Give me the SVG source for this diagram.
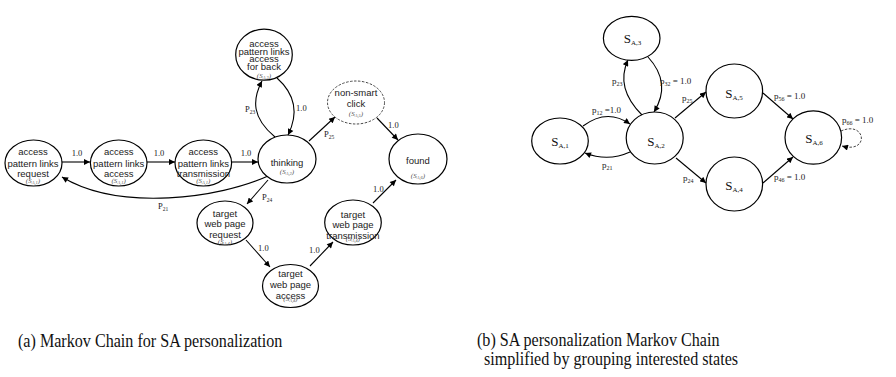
<svg xmlns="http://www.w3.org/2000/svg" width="896" height="377" viewBox="0 0 896 377">
  <style>
    .node { fill: #fff; stroke: #000; stroke-width: 1.2; }
    .dashed { stroke-dasharray: 2.5 1.5; stroke-width: 0.9; stroke: #333; }
    .edge { fill: none; stroke: #000; stroke-width: 1.1; marker-end: url(#arrow); }
    .loop { fill: none; stroke: #333; stroke-width: 0.9; stroke-dasharray: 2.5 1.5; marker-end: url(#arrow); }
    .nt { font-family: "Liberation Sans", Arial, sans-serif; font-size: 9.5px; fill: #222; text-anchor: middle; }
    .st { font-family: "Liberation Serif", "Times New Roman", serif; font-style: italic; font-size: 7px; fill: #555; text-anchor: middle; }
    .lbl { font-family: "Liberation Serif", "Times New Roman", serif; font-size: 8.5px; fill: #222; }
    .rl { font-family: "Liberation Serif", "Times New Roman", serif; font-size: 9px; fill: #222; }
    .big { font-family: "Liberation Serif", "Times New Roman", serif; font-size: 13px; fill: #111; text-anchor: middle; }
    .cap { font-family: "Liberation Serif", "Times New Roman", serif; font-size: 18px; fill: #111; }
  </style>
  <defs>
    <marker id="arrow" viewBox="0 0 10 10" refX="10" refY="5" markerWidth="7" markerHeight="6" markerUnits="userSpaceOnUse" orient="auto">
      <path d="M0,0 L10,5 L0,10 z" fill="#000"/>
    </marker>
  </defs>

  <!-- connectors -->
  <g id="connectors">
    <!-- (a) chain -->
    <line class="edge" x1="62" y1="162" x2="90" y2="162"/>
    <line class="edge" x1="147" y1="162" x2="175" y2="162"/>
    <line class="edge" x1="232" y1="162" x2="258" y2="162"/>
    <path class="edge" d="M268,176 C 220,198 120,212 62,177"/>
    <path class="edge" d="M275,137 C 252,118 252,100 262,81"/>
    <path class="edge" d="M277,78 C 296,95 298,115 288,135"/>
    <line class="edge" x1="309" y1="141" x2="335" y2="117"/>
    <line class="edge" x1="377" y1="118" x2="398" y2="140"/>
    <line class="edge" x1="268" y1="180" x2="247" y2="204"/>
    <line class="edge" x1="246" y1="240" x2="270" y2="267"/>
    <line class="edge" x1="310" y1="266" x2="333" y2="242"/>
    <line class="edge" x1="373" y1="203" x2="396" y2="180"/>

    <!-- (b) chain -->
    <path class="edge" d="M583,126 Q 607,108 630,124"/>
    <path class="edge" d="M630,152 Q 608,162 585,153"/>
    <path class="edge" d="M642,115 Q 615,88 628,60"/>
    <path class="edge" d="M648,57 Q 672,83 654,112"/>
    <line class="edge" x1="675" y1="118" x2="706" y2="92"/>
    <line class="edge" x1="676" y1="158" x2="706" y2="183"/>
    <line class="edge" x1="763" y1="93" x2="793" y2="119"/>
    <line class="edge" x1="763" y1="183" x2="793" y2="157"/>
    <path class="loop" d="M841,131 C 866,120 870,154 842,146"/>

    <!-- edge labels (a) -->
    <text class="lbl" x="77" y="156" text-anchor="middle">1.0</text>
    <text class="lbl" x="159" y="156" text-anchor="middle">1.0</text>
    <text class="lbl" x="246" y="156" text-anchor="middle">1.0</text>
    <text class="lbl" x="158" y="209">P<tspan font-size="5.5" dy="1.5">21</tspan></text>
    <text class="lbl" x="245" y="112">P<tspan font-size="5.5" dy="1.5">23</tspan></text>
    <text class="lbl" x="296" y="111">1.0</text>
    <text class="lbl" x="324" y="137">P<tspan font-size="5.5" dy="1.5">25</tspan></text>
    <text class="lbl" x="388" y="128">1.0</text>
    <text class="lbl" x="262" y="200">P<tspan font-size="5.5" dy="1.5">24</tspan></text>
    <text class="lbl" x="258" y="251">1.0</text>
    <text class="lbl" x="309" y="253">1.0</text>
    <text class="lbl" x="373" y="192">1.0</text>

    <!-- edge labels (b) -->
    <text class="rl" x="592" y="113">p<tspan font-size="6" dy="1.5">12</tspan><tspan dy="-1.5"> =1.0</tspan></text>
    <text class="rl" x="602" y="168">p<tspan font-size="6" dy="1.5">21</tspan></text>
    <text class="rl" x="612" y="84">p<tspan font-size="6" dy="1.5">23</tspan></text>
    <text class="rl" x="660" y="84">p<tspan font-size="6" dy="1.5">32</tspan><tspan dy="-1.5"> = 1.0</tspan></text>
    <text class="rl" x="682" y="101">p<tspan font-size="6" dy="1.5">25</tspan></text>
    <text class="rl" x="683" y="181">p<tspan font-size="6" dy="1.5">24</tspan></text>
    <text class="rl" x="774" y="99">p<tspan font-size="6" dy="1.5">56</tspan><tspan dy="-1.5"> = 1.0</tspan></text>
    <text class="rl" x="774" y="180">p<tspan font-size="6" dy="1.5">46</tspan><tspan dy="-1.5"> = 1.0</tspan></text>
    <text class="rl" x="842" y="123">p<tspan font-size="6" dy="1.5">66</tspan><tspan dy="-1.5"> = 1.0</tspan></text>
  </g>

  <!-- (a) Markov chain nodes -->
  <g id="a-request">
    <ellipse class="node" cx="33.5" cy="163" rx="28.5" ry="23"/>
    <text class="nt" x="33" y="155">access</text>
    <text class="nt" x="33" y="166.5">pattern links</text>
    <text class="nt" x="33" y="176.5">request</text>
    <text class="st" x="33" y="182.5">(S<tspan font-size="4.5" dy="1">A,1</tspan><tspan dy="-1">)</tspan></text>
  </g>
  <g id="a-access">
    <ellipse class="node" cx="118.7" cy="163" rx="28.3" ry="23"/>
    <text class="nt" x="118.7" y="155">access</text>
    <text class="nt" x="118.7" y="166.5">pattern links</text>
    <text class="nt" x="118.7" y="176.5">access</text>
    <text class="st" x="118.7" y="182.5">(S<tspan font-size="4.5" dy="1">A,1</tspan><tspan dy="-1">)</tspan></text>
  </g>
  <g id="a-transmission">
    <ellipse class="node" cx="203.3" cy="163" rx="28.3" ry="23"/>
    <text class="nt" x="203.3" y="155">access</text>
    <text class="nt" x="203.3" y="166.5">pattern links</text>
    <text class="nt" x="203.3" y="176.5">transmission</text>
    <text class="st" x="203.3" y="182.5">(S<tspan font-size="4.5" dy="1">A,1</tspan><tspan dy="-1">)</tspan></text>
  </g>
  <g id="a-thinking">
    <ellipse class="node" cx="287" cy="159" rx="29" ry="24"/>
    <text class="nt" x="287" y="165.5">thinking</text>
    <text class="st" x="287" y="173.5">(S<tspan font-size="4.5" dy="1">A,2</tspan><tspan dy="-1">)</tspan></text>
  </g>
  <g id="a-back">
    <ellipse class="node" cx="264" cy="54.7" rx="28.3" ry="25.5"/>
    <text class="nt" x="264" y="46.5">access</text>
    <text class="nt" x="264" y="54.5">pattern links</text>
    <text class="nt" x="264" y="62">access</text>
    <text class="nt" x="264" y="70">for back</text>
    <text class="st" x="264" y="77.5">(S<tspan font-size="4.5" dy="1">A,3</tspan><tspan dy="-1">)</tspan></text>
  </g>
  <g id="a-nonsmart">
    <ellipse class="node dashed" cx="356" cy="102.5" rx="28.5" ry="21.5"/>
    <text class="nt" x="356" y="95.8">non-smart</text>
    <text class="nt" x="356" y="106.8">click</text>
    <text class="st" x="356" y="116">(S<tspan font-size="4.5" dy="1">A,5</tspan><tspan dy="-1">)</tspan></text>
  </g>
  <g id="a-found">
    <ellipse class="node" cx="418" cy="159" rx="29" ry="25"/>
    <text class="nt" x="418" y="164">found</text>
    <text class="st" x="418" y="177.5">(S<tspan font-size="4.5" dy="1">A,6</tspan><tspan dy="-1">)</tspan></text>
  </g>
  <g id="a-target-request">
    <ellipse class="node" cx="225" cy="223" rx="28" ry="22"/>
    <text class="nt" x="225" y="216.5">target</text>
    <text class="nt" x="225" y="226.8">web page</text>
    <text class="nt" x="225" y="237.5">request</text>
    <text class="st" x="225" y="243.5">(S<tspan font-size="4.5" dy="1">A,4</tspan><tspan dy="-1">)</tspan></text>
  </g>
  <g id="a-target-access">
    <ellipse class="node" cx="290.5" cy="286" rx="28" ry="21.5"/>
    <text class="nt" x="290.5" y="276.8">target</text>
    <text class="nt" x="290.5" y="287.8">web page</text>
    <text class="nt" x="290.5" y="298.5">access</text>
    <text class="st" x="290.5" y="300.5">(S<tspan font-size="4.5" dy="1">A,4</tspan><tspan dy="-1">)</tspan></text>
  </g>
  <g id="a-target-transmission">
    <ellipse class="node" cx="353" cy="222.5" rx="28.3" ry="22.5"/>
    <text class="nt" x="353" y="217.5">target</text>
    <text class="nt" x="353" y="227.8">web page</text>
    <text class="nt" x="353" y="238.5">transmission</text>
    <text class="st" x="353" y="241">(S<tspan font-size="4.5" dy="1">A,4</tspan><tspan dy="-1">)</tspan></text>
  </g>

  <!-- (b) simplified chain nodes -->
  <g id="b-s1">
    <ellipse class="node" cx="560" cy="141" rx="28.3" ry="23"/>
    <text class="big" x="560" y="146">S<tspan font-size="7" dy="2">A,1</tspan></text>
  </g>
  <g id="b-s2">
    <ellipse class="node" cx="654.7" cy="138" rx="28.5" ry="26"/>
    <text class="big" x="656" y="146">S<tspan font-size="7" dy="2">A,2</tspan></text>
  </g>
  <g id="b-s3">
    <ellipse class="node" cx="631.7" cy="38.3" rx="28.3" ry="22"/>
    <text class="big" x="632.5" y="42.5">S<tspan font-size="7" dy="2">A,3</tspan></text>
  </g>
  <g id="b-s5">
    <ellipse class="node" cx="734.3" cy="91" rx="28.3" ry="27"/>
    <text class="big" x="734" y="98">S<tspan font-size="7" dy="2">A,5</tspan></text>
  </g>
  <g id="b-s4">
    <ellipse class="node" cx="734.3" cy="184" rx="28.3" ry="27"/>
    <text class="big" x="734" y="190">S<tspan font-size="7" dy="2">A,4</tspan></text>
  </g>
  <g id="b-s6">
    <ellipse class="node" cx="813.3" cy="137.5" rx="28.3" ry="26.7"/>
    <text class="big" x="814" y="143">S<tspan font-size="7" dy="2">A,6</tspan></text>
  </g>

  <!-- captions (slightly condensed serif) -->
  <text class="cap" transform="translate(18,347) scale(0.895,1)">(a) Markov Chain for SA personalization</text>
  <text class="cap" transform="translate(477,346) scale(0.895,1)">(b) SA personalization Markov Chain</text>
  <text class="cap" transform="translate(484,365) scale(0.895,1)">simplified by grouping interested states</text>
</svg>
